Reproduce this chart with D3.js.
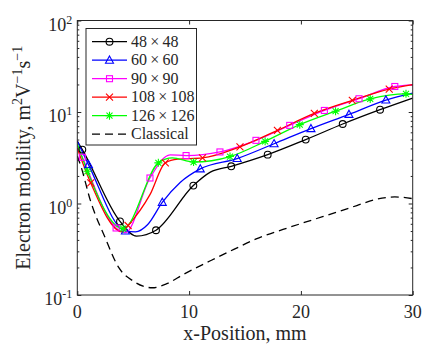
<!DOCTYPE html>
<html><head><meta charset="utf-8">
<script src="https://cdn.jsdelivr.net/npm/d3@7/dist/d3.min.js"></script>
<style>body{margin:0;background:#fff}svg{display:block}</style>
</head><body><svg id="c" width="436" height="349"></svg>
<script>
// ---- data ----
const seriesNames = ["48\u2009\u00d7\u200948","60\u2009\u00d7\u200960","90\u2009\u00d7\u200990","108\u2009\u00d7\u2009108","126\u2009\u00d7\u2009126","Classical"];
// marker points (x in mm, mobility)
const m48x = [0.45,3.82,7.04,10.38,13.77,17.03,20.43,23.74,27.08];
const m48y = [3.88,0.637,0.51,1.57,2.55,3.42,4.99,7.39,10.6];
const l48x = [0,5.3,11.9,30];
const l48y = [4.8,0.44,2.2,14.2];
const m60x = [1.0,4.3,7.6,11.0,14.3,17.6,20.9,24.3,27.6];
const m60y = [2.66,0.50,1.03,2.39,3.1,4.5,6.58,9.42,13.5];
const l60x = [0,5.2,6.3,9.2,30];
const l60y = [4.8,0.49,0.59,1.7,16.1];
const m90x = [0.45,3.47,6.5,9.73,12.76,15.98,19.0,22.1,25.2,28.4];
const m90y = [3.2,0.54,1.9,3.34,3.66,4.9,7.14,10.4,13.96,19.0];
const l90x = [0,4.3,8.3,30];
const l90y = [4.3,0.48,3.4,19.8];
const m108x = [1.2,4.54,7.87,11.2,14.55,17.9,21.2,24.6,27.9];
const m108y = [1.68,0.575,2.78,3.15,4.16,6.3,9.66,13.4,17.8];
const l108x = [0,4.0,6.5,9.0,30];
const l108y = [4.0,0.49,1.25,3.05,19.9];
const m126x = [0.9,4.1,7.25,10.4,13.66,16.8,19.9,23.1,26.2,29.4];
const m126y = [2.25,0.53,2.78,2.84,3.26,4.78,7.27,10.2,13.9,15.8];
const l126x = [0,8.5,30];
const l126y = [4.5,3.15,15.6];
const clsX = [0,0.3,1.2,2.5,3.7,5,6.7,8,9.5,12,14,16,18.4,21,23,25,26.6,28.4,30];
const clsY = [3.3,2.6,1.05,0.42,0.2,0.142,0.12,0.133,0.168,0.24,0.315,0.41,0.52,0.66,0.79,0.95,1.1,1.18,1.13];
const xTicks = [0,10,20,30];
const yTickExp = [-1,0,1,2];
const colors = ["#000000","#0000ff","#ff00ff","#ff0000","#00ff00","#000000"];
const markers = ["circle","triangle","square","x","star",null];

// ---- build ----
function zip(a,b){return a.map((v,i)=>[v,b[i]]);}
const series = [
  {m:zip(m48x,m48y), l:zip(l48x,l48y)},
  {m:zip(m60x,m60y), l:zip(l60x,l60y)},
  {m:zip(m90x,m90y), l:zip(l90x,l90y)},
  {m:zip(m108x,m108y), l:zip(l108x,l108y)},
  {m:zip(m126x,m126y), l:zip(l126x,l126y)},
  {m:[], l:zip(clsX,clsY)}
].map((s,i)=>({name:seriesNames[i], color:colors[i], marker:markers[i], marks:s.m,
  line:s.m.concat(s.l).sort((a,b)=>a[0]-b[0])}));

const L=77.3,R=412.7,T=20.5,B=295;
const x=d3.scaleLinear().domain([0,30]).range([L,R]);
const y=d3.scaleLog().domain([0.1,100]).range([B,T]);
const svg=d3.select("#c");
const axc="#262626";
const FF='"Liberation Serif"';
function tx(sel){return sel.style("font-family",FF).style("fill",axc);}

// ticks
const minor=[];
for(let e=-1;e<2;e++)for(let k=2;k<10;k++)minor.push(k*Math.pow(10,e));
const major=yTickExp.map(e=>Math.pow(10,e));
function strip(g){g.select(".domain").remove();g.selectAll("text").remove();g.selectAll("line").attr("stroke",axc);}
svg.append("g").attr("transform",`translate(0,${B})`).call(d3.axisBottom(x).tickValues(xTicks).tickSize(-4)).call(strip);
svg.append("g").attr("transform",`translate(0,${T})`).call(d3.axisTop(x).tickValues(xTicks).tickSize(-4)).call(strip);
svg.append("g").attr("transform",`translate(${L},0)`).call(d3.axisLeft(y).tickValues(major).tickSize(-4)).call(strip);
svg.append("g").attr("transform",`translate(${R},0)`).call(d3.axisRight(y).tickValues(major).tickSize(-4)).call(strip);
svg.append("g").attr("transform",`translate(${L},0)`).call(d3.axisLeft(y).tickValues(minor).tickSize(-2)).call(strip);
svg.append("g").attr("transform",`translate(${R},0)`).call(d3.axisRight(y).tickValues(minor).tickSize(-2)).call(strip);

// tick labels
svg.append("g").selectAll("text").data(xTicks).join("text")
  .attr("x",d=>x(d)).attr("y",B+23).attr("text-anchor","middle").attr("font-size",18).text(d=>d).call(tx);
const yl=svg.append("g").selectAll("text").data(yTickExp).join("text")
  .attr("x",L-5).attr("y",d=>y(Math.pow(10,d))+10).attr("text-anchor","end").attr("font-size",18).call(tx);
yl.append("tspan").text("10");
yl.append("tspan").attr("font-size",12).attr("dy",-7).text(d=>d);

// data lines
const line=d3.line().x(d=>x(d[0])).y(d=>y(d[1])).curve(d3.curveMonotoneX);
svg.append("defs").append("clipPath").attr("id","cp").append("rect").attr("x",L).attr("y",T).attr("width",R-L).attr("height",B-T);
const plot=svg.append("g").attr("clip-path","url(#cp)");
series.forEach(s=>{
  plot.append("path").attr("d",line(s.line)).attr("fill","none").attr("stroke",s.color)
    .attr("stroke-width",1.3).attr("stroke-dasharray",s.marker?null:"8,5");
});
function drawMarker(g,type,color,cx,cy){
  let p;
  if(type==="circle"){p=g.append("circle").attr("cx",cx).attr("cy",cy).attr("r",3.4);}
  else if(type==="triangle"){p=g.append("path").attr("d",`M${cx},${cy-4.2}L${cx+4},${cy+3}L${cx-4},${cy+3}Z`);}
  else if(type==="square"){p=g.append("rect").attr("x",cx-3).attr("y",cy-3).attr("width",6).attr("height",6);}
  else if(type==="x"){p=g.append("path").attr("d",`M${cx-3.5},${cy-3.5}L${cx+3.5},${cy+3.5}M${cx-3.5},${cy+3.5}L${cx+3.5},${cy-3.5}`);}
  else if(type==="star"){p=g.append("path").attr("d",`M${cx-3},${cy-3}L${cx+3},${cy+3}M${cx-3},${cy+3}L${cx+3},${cy-3}M${cx-4},${cy}L${cx+4},${cy}M${cx},${cy-4}L${cx},${cy+4}`);}
  p.attr("fill","none").attr("stroke",color).attr("stroke-width",1.1);
}
series.forEach(s=>{
  const g=svg.append("g");
  s.marks.forEach(d=>drawMarker(g,s.marker,s.color,x(d[0]),y(d[1])));
});

// frame
svg.append("rect").attr("x",L).attr("y",T).attr("width",R-L).attr("height",B-T).attr("fill","none").attr("stroke",axc).attr("stroke-width",1);

// legend
const lg=svg.append("g");
lg.append("rect").attr("x",86).attr("y",28.5).attr("width",110.5).attr("height",116.5).attr("fill","#fff").attr("stroke",axc).attr("stroke-width",1);
series.forEach((s,i)=>{
  const yy=41.7+i*18.5;
  lg.append("line").attr("x1",92).attr("x2",127).attr("y1",yy).attr("y2",yy).attr("stroke",s.color).attr("stroke-width",1.3)
    .attr("stroke-dasharray",s.marker?null:"8,5");
  if(s.marker)drawMarker(lg,s.marker,s.color,109.5,yy);
  lg.append("text").attr("x",131).attr("y",yy+5).attr("font-size",16).text(s.name).call(tx);
});

// axis labels
svg.append("text").attr("x",(L+R)/2).attr("y",340).attr("text-anchor","middle").attr("font-size",20).text("x-Position, mm").call(tx);
const yt=svg.append("text").attr("transform",`translate(30,${(T+B)/2}) rotate(-90)`).attr("text-anchor","middle").attr("font-size",20).call(tx);
yt.append("tspan").text("Electron mobility, m");
yt.append("tspan").attr("font-size",14).attr("dy",-8).text("2");
yt.append("tspan").attr("dy",8).text("V");
yt.append("tspan").attr("font-size",14).attr("dy",-8).text("\u22121");
yt.append("tspan").attr("dy",8).text("s");
yt.append("tspan").attr("font-size",14).attr("dy",-8).text("\u22121");
</script></body></html>
